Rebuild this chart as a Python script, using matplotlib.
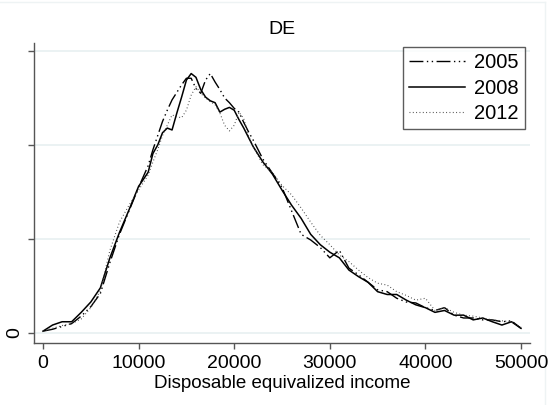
import matplotlib
matplotlib.use("Agg")
import matplotlib.pyplot as plt
from matplotlib.lines import Line2D

plt.rcParams['font.family'] = ['Liberation Sans', 'DejaVu Sans']

# income grid (same for all years)
income = [0, 1000, 2000, 3000, 4000, 5000, 6000, 7000, 8000, 9000, 10000, 11000,
          11500, 12000, 12500, 13000, 13500, 14000, 14500, 15000, 15500, 16000,
          16500, 17000, 17500, 18000, 18500, 19000, 19500, 20000, 20500, 21000,
          21500, 22000,
          23000, 24000, 25000, 26000, 27000, 28000, 29000, 30000, 31000, 32000,
          33000, 34000, 35000, 36000, 37000, 38000, 39000, 40000, 41000, 42000,
          43000, 44000, 45000, 46000, 47000, 48000, 49000, 50000]

# kernel density, in units of 1e-5
dens_2005 = [0.02, 0.04, 0.07, 0.10, 0.18, 0.28, 0.42, 0.75, 1.05, 1.30, 1.55, 1.78,
             1.95, 2.10, 2.25, 2.37, 2.48, 2.56, 2.64, 2.71, 2.71, 2.60,
             2.55, 2.69, 2.76, 2.67, 2.59, 2.50, 2.45, 2.39, 2.35, 2.24,
             2.14, 2.05,
             1.85, 1.70, 1.55, 1.30, 1.05, 0.99, 0.91, 0.80, 0.88, 0.69,
             0.62, 0.54, 0.46, 0.44, 0.37, 0.33, 0.32, 0.27, 0.24, 0.27,
             0.19, 0.16, 0.16, 0.14, 0.14, 0.12, 0.13, 0.05]
dens_2008 = [0.02, 0.085, 0.12, 0.12, 0.22, 0.33, 0.48, 0.80, 1.07, 1.31, 1.56, 1.71,
             1.91, 2.00, 2.13, 2.18, 2.16, 2.34, 2.51, 2.69, 2.76, 2.72,
             2.59, 2.51, 2.47, 2.45, 2.35, 2.38, 2.40, 2.37, 2.27, 2.18,
             2.08, 1.98,
             1.82, 1.69, 1.52, 1.36, 1.22, 1.05, 0.94, 0.86, 0.80, 0.67,
             0.60, 0.54, 0.44, 0.41, 0.41, 0.35, 0.30, 0.27, 0.22, 0.24,
             0.19, 0.19, 0.14, 0.16, 0.12, 0.085, 0.12, 0.05]
dens_2012 = [0.02, 0.05, 0.08, 0.10, 0.15, 0.27, 0.45, 0.88, 1.18, 1.36, 1.52, 1.68,
             1.82, 1.95, 2.10, 2.21, 2.32, 2.30, 2.29, 2.37, 2.53, 2.62,
             2.55, 2.50, 2.46, 2.43, 2.34, 2.21, 2.15, 2.21, 2.35, 2.28,
             2.10, 1.98,
             1.79, 1.71, 1.57, 1.47, 1.33, 1.18, 1.04, 0.94, 0.83, 0.76,
             0.67, 0.59, 0.53, 0.51, 0.44, 0.40, 0.35, 0.37, 0.24, 0.27,
             0.22, 0.19, 0.18, 0.16, 0.14, 0.13, 0.12, 0.06]

x_ticks = [0, 10000, 20000, 30000, 40000, 50000]
y_ticks = [0, 1, 2, 3]
y_labels = ['0', '', '', '']

fig = plt.figure(figsize=(5.58, 4.05), dpi=100)

# faint outer frame of the graph region (drawn first, under everything)
fig.add_artist(Line2D([0, 545/558], [1 - 2/405, 1 - 2/405], color='#eef3f4', lw=1, zorder=0))
fig.add_artist(Line2D([545/558, 545/558], [0, 1 - 2/405], color='#eef3f4', lw=1, zorder=0))

ax = fig.add_axes([34/558, 62/405, 496/558, 300/405])
ax.patch.set_alpha(0)

ax.plot(income, dens_2005, color='black', lw=1.0, dashes=(10, 2.5, 1, 2.5, 1, 2.5), label='2005')
ax.plot(income, dens_2008, color='black', lw=1.1, label='2008')
ax.plot(income, dens_2012, color='#444444', lw=0.8, dashes=(0.8, 2.2), label='2012')

ax.set_xlim(-940, 50940)
ax.set_ylim(-0.106, 3.085)
ax.set_xticks(x_ticks)
ax.set_xticklabels([str(t) for t in x_ticks])
ax.set_yticks(y_ticks)
ax.set_yticklabels(y_labels, rotation=90, va='center')
ax.grid(axis='y', color='#e8f0f1', lw=1.2)
ax.set_axisbelow(True)

for s in ['top', 'right']:
    ax.spines[s].set_visible(False)
for s in ['left', 'bottom']:
    ax.spines[s].set_color('#555555')
    ax.spines[s].set_linewidth(1.0)
ax.tick_params(axis='both', colors='#555555', labelcolor='black', labelsize=14,
               length=4.5, width=1.0)
ax.tick_params(axis='x', pad=4.5)
ax.tick_params(axis='y', pad=3)

ax.set_xlabel('Disposable equivalized income', fontsize=13.5, labelpad=1.5)
fig.text(282/558, 1 - 29/405, 'DE', fontsize=14, ha='center', va='center')

leg = ax.legend(loc='upper right', bbox_to_anchor=(525/558, 1 - 47/405),
                bbox_transform=fig.transFigure, fontsize=14.5, frameon=True,
                fancybox=False, edgecolor='#333333', borderaxespad=0,
                handlelength=2.8, handletextpad=0.45, labelspacing=0.33,
                borderpad=0.3)
leg.get_frame().set_linewidth(1.0)

fig.savefig('out.png', dpi=100)
